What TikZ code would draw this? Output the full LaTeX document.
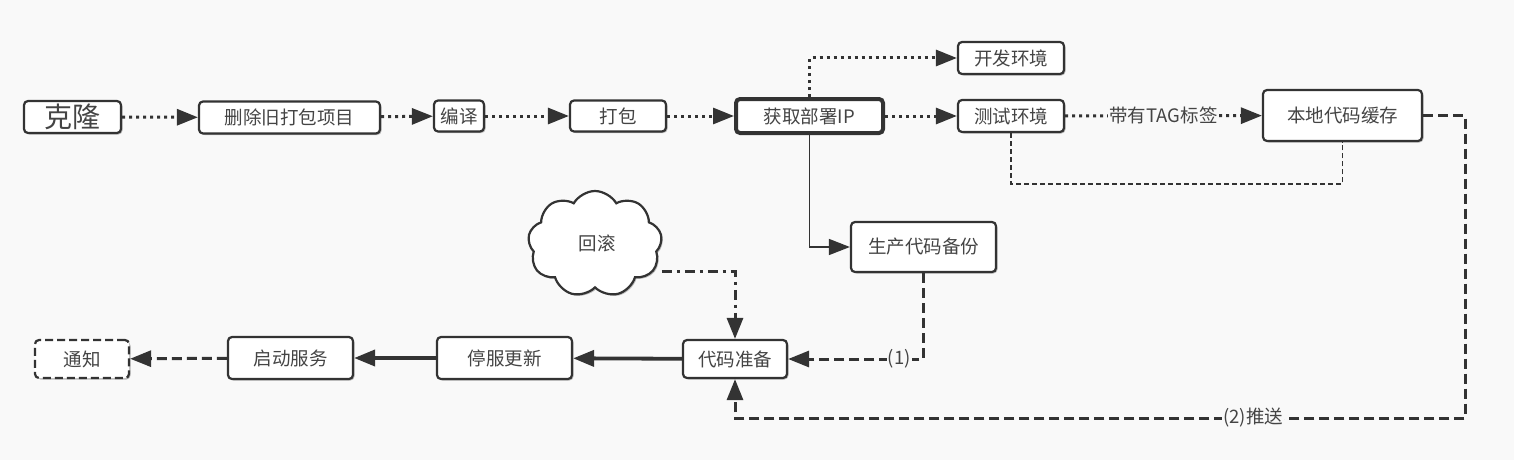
\documentclass[tikz,border=0pt]{standalone}
\usepackage{fontspec}
\newfontfamily\cjk{Noto Sans CJK SC}
\usetikzlibrary{arrows.meta,shapes.symbols,shadows}
\definecolor{bg}{HTML}{F9F9F9}
\definecolor{ink}{HTML}{333333}
\definecolor{txt}{HTML}{444444}
\begin{document}
\begin{tikzpicture}[x=1pt,y=-1pt,
  box/.style={draw=ink,line width=2.2pt,rounded corners=4pt,fill=white,
    text=txt,inner sep=0pt,
    drop shadow={shadow xshift=1.5pt,shadow yshift=-1.5pt,opacity=0.25,fill=black}},
  every node/.style={font=\cjk\fontsize{18.5}{18.5}\selectfont,text=txt},
  tip/.style={-{Triangle[length=21pt,width=16pt]}},
  dotline/.style={draw=ink,line width=3pt,dash pattern=on 3pt off 4pt,tip},
  dashline/.style={draw=ink,line width=3pt,dash pattern=on 10pt off 5pt},
  thindash/.style={draw=ink,line width=1.4pt,dash pattern=on 5pt off 3pt},
  lbl/.style={fill=bg,inner sep=1pt}
]
\fill[bg] (0,0) rectangle (1514,460);
\useasboundingbox (0,0) rectangle (1514,460);

% top row
\node[box,minimum width=97pt,minimum height=32pt,font=\cjk\fontsize{28}{28}\selectfont] (clone) at (72.5,117) {克隆};
\node[box,minimum width=181pt,minimum height=32pt] (del) at (289.5,117.5) {删除旧打包项目};
\node[box,minimum width=50pt,minimum height=31pt] (comp) at (459,116) {编译};
\node[box,minimum width=96pt,minimum height=31pt] (pack) at (618,116) {打包};
\node[box,line width=4pt,minimum width=147pt,minimum height=34pt] (getip) at (809.5,116) {获取部署IP};
\node[box,minimum width=106pt,minimum height=32pt] (dev) at (1011,58) {开发环境};
\node[box,minimum width=106pt,minimum height=32pt] (test) at (1011,116) {测试环境};
\node[box,minimum width=159pt,minimum height=51pt] (cache) at (1342.5,115.5) {本地代码缓存};
\node[box,minimum width=145pt,minimum height=50pt] (backup) at (923.5,247) {生产代码备份};

% cloud
\node[cloud,cloud puffs=9,cloud puff arc=120,aspect=1.2,draw=ink,line width=2.2pt,fill=white,
  minimum width=134pt,minimum height=106pt,inner sep=0pt,
  drop shadow={shadow xshift=1.5pt,shadow yshift=-1.5pt,opacity=0.25,fill=black}] (rb) at (595,244) {};
\node (rbt) at (597,243) {回滚};

% bottom row
\node[box,minimum width=104pt,minimum height=38pt] (prep) at (735,359) {代码准备};
\node[box,minimum width=135pt,minimum height=42pt] (stop) at (504.5,358) {停服更新};
\node[box,minimum width=125pt,minimum height=42pt] (start) at (290.5,358) {启动服务};
\node[box,dash pattern=on 8pt off 4pt,minimum width=94pt,minimum height=38pt] (notify) at (82,359) {通知};

% dotted chain
\draw[dotline] (clone) -- (del);
\draw[dotline] (del) -- (comp);
\draw[dotline] (comp) -- (pack);
\draw[dotline] (pack) -- (getip);
\draw[dotline] (getip.north) |- (dev.west);
\draw[dotline] (getip) -- (test);
\draw[dotline] (test) -- node[lbl] {带有TAG标签} (cache);

% thin dashed loop
\coordinate (lp) at (1100,184);
\draw[thindash] (test.south) -- (test.south |- lp) -| (cache.south);

% solid thin to backup
\draw[draw=ink,line width=1.5pt,tip] (getip.south) |- (backup.west);

% backup -> prep
\draw[dashline,tip] (backup.south) |- node[lbl,pos=0.59] {(1)} (prep.east);

% cache -> prep (push)
\coordinate (c1) at (1465,115.5);
\coordinate (c2) at (1465,418);
\draw[dashline,tip] (cache.east) -- (c1) -- (c2) -- node[lbl,pos=0.29] {(2)推送} (prep.south |- c2) -- (prep.south);

% rollback -> prep
\coordinate (r1) at (700,271);
\draw[draw=ink,line width=3pt,dash pattern=on 10pt off 5pt on 3pt off 5pt,tip] (rb.east |- r1) -- (prep.north |- r1) -- (prep.north);

% bottom chain
\draw[draw=ink,line width=3.8pt,tip] (prep) -- (stop);
\draw[draw=ink,line width=3.8pt,tip] (stop) -- (start);
\draw[dashline,tip] (start) -- (notify);
\end{tikzpicture}
\end{document}
